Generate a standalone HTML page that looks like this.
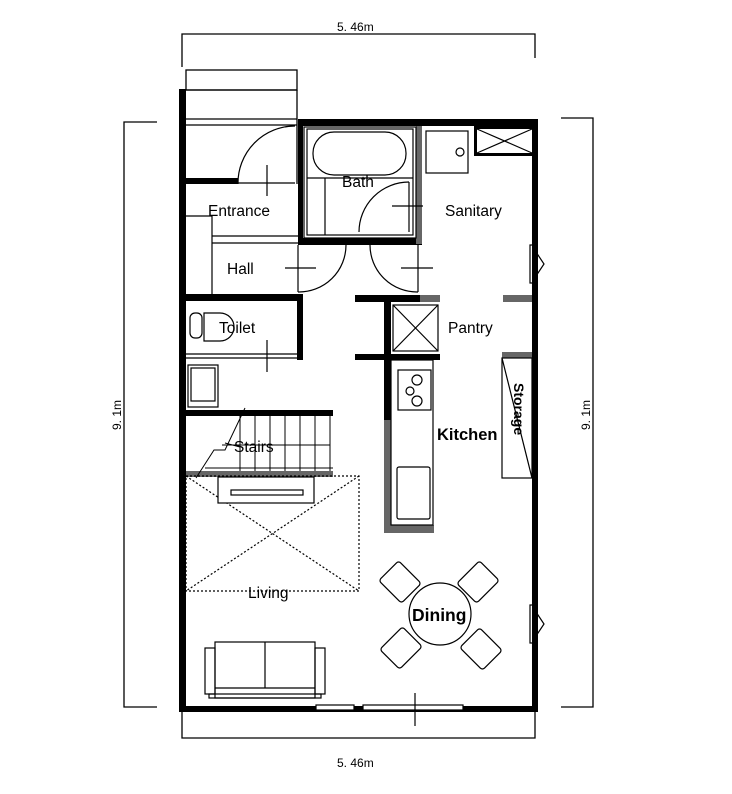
<!DOCTYPE html>
<html><head><meta charset="utf-8"><style>
html,body{margin:0;padding:0;background:#fff;}
svg{display:block;font-family:"Liberation Sans",sans-serif;}
text{font-family:"Liberation Sans",sans-serif;}
</style></head><body>
<svg width="732" height="794" viewBox="0 0 732 794" xmlns="http://www.w3.org/2000/svg">
<g stroke="#000" stroke-width="1.3" fill="none">
<polyline points="182,67 182,34 535,34 535,58"/>
<polyline points="182,712 182,738 535,738 535,712"/>
<polyline points="157,122 124,122 124,707 157,707"/>
<polyline points="561,118 593,118 593,707 561,707"/>
</g>
<g font-size="12" fill="#000">
<text x="337" y="31">5. 46m</text>
<text x="337" y="767">5. 46m</text>
<text transform="translate(121,430) rotate(-90)">9. 1m</text>
<text transform="translate(590,430) rotate(-90)">9. 1m</text>
</g>

<g stroke="#000" stroke-width="1.3" fill="none">
<rect x="186" y="70" width="111" height="20"/>
<line x1="186" y1="90" x2="297" y2="90"/>
<line x1="186" y1="119" x2="297" y2="119"/>
<line x1="186" y1="125" x2="297" y2="125"/>
<line x1="297" y1="90" x2="297" y2="184"/>
</g>

<g fill="#000">
<rect x="179" y="89" width="7" height="623"/>
<rect x="298" y="119" width="240" height="7"/>
<rect x="532" y="119" width="6" height="593"/>
<rect x="179" y="706" width="359" height="6"/>
<rect x="186" y="178" width="52" height="6"/>
<rect x="298" y="119" width="5" height="126"/>
<rect x="298" y="238" width="124" height="7"/>
<rect x="186" y="294" width="117" height="7"/>
<rect x="297" y="294" width="6" height="66"/>
<rect x="355" y="295" width="65" height="7"/>
<rect x="355" y="354" width="85" height="6"/>
<rect x="384" y="295" width="7" height="125"/>
<rect x="186" y="410" width="147" height="6"/>
<rect x="474" y="126" width="58" height="3"/>
<rect x="474" y="126" width="3" height="30"/>
<rect x="474" y="153" width="58" height="3"/>
</g>
<g fill="#666">
<rect x="420" y="295" width="20" height="7"/>
<rect x="503" y="295" width="29" height="7"/>
<rect x="502" y="352" width="30" height="6"/>
<rect x="416" y="126" width="6" height="118"/>
<rect x="384" y="420" width="7" height="113"/>
<rect x="384" y="525" width="50" height="8"/>
<rect x="186" y="471" width="147" height="6"/>
</g>

<g stroke="#000" stroke-width="1.2" fill="none">
<path d="M238,184 A57,57 0 0 1 295,126"/>
<line x1="238" y1="183" x2="295" y2="183"/>
<line x1="267" y1="165" x2="267" y2="196"/>
<line x1="186" y1="216" x2="212" y2="216"/>
<line x1="212" y1="216" x2="212" y2="294"/>
<line x1="212" y1="236" x2="298" y2="236"/>
<line x1="212" y1="243" x2="298" y2="243"/>
<rect x="304" y="127" width="112" height="111"/>
<rect x="307" y="129" width="106" height="106"/>
<rect x="313" y="132" width="93" height="43" rx="21"/>
<line x1="307" y1="178" x2="413" y2="178"/>
<line x1="325" y1="178" x2="325" y2="235"/>
<path d="M359,232 A50,50 0 0 1 409,182"/>
<line x1="409" y1="182" x2="409" y2="232"/>
<line x1="392" y1="206" x2="423" y2="206"/>
<line x1="298" y1="245" x2="298" y2="292"/>
<path d="M298,292 A47,47 0 0 0 346,245"/>
<line x1="285" y1="268" x2="316" y2="268"/>
<path d="M418,292 A47,47 0 0 1 370,245"/>
<line x1="418" y1="245" x2="418" y2="292"/>
<line x1="401" y1="268" x2="433" y2="268"/>
<rect x="426" y="131" width="42" height="42"/>
<circle cx="460" cy="152" r="4"/>
<line x1="477" y1="129" x2="532" y2="153"/>
<line x1="477" y1="153" x2="532" y2="129"/>
<rect x="530" y="245" width="6" height="38"/>
<path d="M536,252 L544,264 L536,276"/>
<rect x="530" y="605" width="6" height="38"/>
<path d="M536,612 L544,624 L536,636"/>
<rect x="393" y="305" width="45" height="46"/>
<line x1="393" y1="305" x2="438" y2="351"/>
<line x1="438" y1="305" x2="393" y2="351"/>
<rect x="391" y="360" width="42" height="165"/>
<rect x="398" y="370" width="33" height="40"/>
<circle cx="417" cy="380" r="5"/><circle cx="410" cy="391" r="4"/><circle cx="417" cy="401" r="5"/>
<rect x="397" y="467" width="33" height="52" rx="2"/>
<rect x="502" y="358" width="30" height="120"/>
<line x1="502" y1="358" x2="532" y2="478"/>
<line x1="186" y1="354" x2="297" y2="354"/>
<line x1="186" y1="358" x2="297" y2="358"/>
<rect x="190" y="313" width="12" height="25" rx="5"/>
<path d="M204,313 L220,313 A14,14 0 0 1 220,341 L204,341 Z"/>
<line x1="267" y1="340" x2="267" y2="372"/>
<rect x="188" y="365" width="30" height="42"/>
<rect x="191" y="368" width="24" height="33"/>
<g stroke-width="1">
<line x1="240" y1="416" x2="240" y2="471"/>
<line x1="255" y1="416" x2="255" y2="471"/>
<line x1="270" y1="416" x2="270" y2="471"/>
<line x1="285" y1="416" x2="285" y2="471"/>
<line x1="300" y1="416" x2="300" y2="471"/>
<line x1="315" y1="416" x2="315" y2="471"/>
<line x1="330" y1="416" x2="330" y2="471"/>
<line x1="222" y1="445" x2="330" y2="445"/>
<line x1="205" y1="468" x2="333" y2="468"/>
<polyline points="245,408 225,450 214,450 196,478"/>
<line x1="225" y1="443" x2="240" y2="447"/>
</g>
<rect x="186" y="476" width="173" height="115" stroke-dasharray="2,2"/>
<line x1="186" y1="476" x2="359" y2="591" stroke-dasharray="2,2"/>
<line x1="359" y1="476" x2="186" y2="591" stroke-dasharray="2,2"/>
<rect x="218" y="477" width="96" height="26" fill="#fff"/>
<rect x="231" y="490" width="72" height="5"/>
<rect x="205" y="648" width="10" height="46"/>
<rect x="315" y="648" width="10" height="46"/>
<rect x="215" y="642" width="100" height="56"/>
<line x1="265" y1="642" x2="265" y2="688"/>
<line x1="215" y1="688" x2="315" y2="688"/>
<rect x="209" y="694" width="112" height="4"/>
<circle cx="440" cy="614" r="31"/>
<rect x="-16" y="-14" width="32" height="28" rx="3" transform="translate(400,582) rotate(45)"/>
<rect x="-16" y="-14" width="32" height="28" rx="3" transform="translate(478,582) rotate(-45)"/>
<rect x="-16" y="-14" width="32" height="28" rx="3" transform="translate(401,648) rotate(-45)"/>
<rect x="-16" y="-14" width="32" height="28" rx="3" transform="translate(481,649) rotate(45)"/>
<rect x="316" y="705" width="38" height="5" fill="#fff"/>
<rect x="363" y="705" width="100" height="5" fill="#fff"/>
<line x1="415" y1="693" x2="415" y2="726"/>
</g>

<g font-size="15.5" fill="#000">
<text x="208" y="216">Entrance</text>
<text x="227" y="274">Hall</text>
<text x="342" y="187">Bath</text>
<text x="445" y="216">Sanitary</text>
<text x="448" y="333">Pantry</text>
<text x="219" y="333">Toilet</text>
<text x="234" y="452">Stairs</text>
<text x="437" y="440" font-weight="bold" font-size="16.5">Kitchen</text>
<text transform="translate(514,383) rotate(90)" font-weight="bold" font-size="14">Storage</text>
<text x="248" y="598">Living</text>
<text x="412" y="621" font-weight="bold" font-size="17.5">Dining</text>
</g>
</svg>
</body></html>
